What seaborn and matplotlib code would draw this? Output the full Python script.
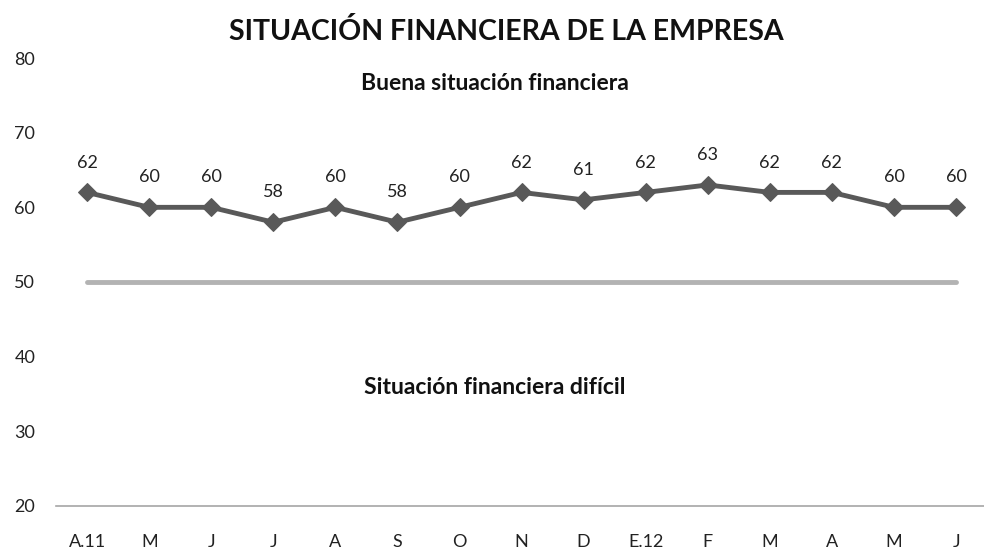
import matplotlib
matplotlib.use("Agg")
import matplotlib.pyplot as plt
import pandas as pd
import seaborn as sns

months = ["A.11", "M", "J", "J", "A", "S", "O", "N", "D", "E.12", "F", "M", "A", "M", "J"]
values = [62, 60, 60, 58, 60, 58, 60, 62, 61, 62, 63, 62, 62, 60, 60]
threshold = [50] * len(months)

sns.set_theme(style="white")
plt.rcParams["font.family"] = ["Lato", "DejaVu Sans"]

df = pd.DataFrame({"pos": range(len(months)), "valor": values, "umbral": threshold})

fig = plt.figure(figsize=(9.84, 5.48), dpi=100)
ax = fig.add_axes([0.057, 0.077, 0.943, 0.817])

sns.lineplot(data=df, x="pos", y="umbral", color="#b3b3b3", linewidth=3.5,
             solid_capstyle="round", ax=ax)
sns.lineplot(data=df, x="pos", y="valor", color="#595959", linewidth=3.5,
             marker="D", markersize=9, markeredgecolor="#595959", ax=ax)

for i, v in enumerate(values):
    ax.text(i, v + 4.0, str(v), ha="center", va="center", fontsize=13, color="#222222")

ax.set_xlim(-0.5, 14.45)
ax.set_ylim(20, 80)
ax.set_yticks(range(20, 81, 10))
ax.set_xticks(range(len(months)))
ax.set_xticklabels(months)
ax.tick_params(axis="both", length=0, labelsize=13, colors="#222222")
ax.tick_params(axis="y", pad=15)
ax.tick_params(axis="x", pad=20)
ax.set_xlabel("")
ax.set_ylabel("")

for side in ["top", "right", "left"]:
    ax.spines[side].set_visible(False)
ax.spines["bottom"].set_color("#a6a6a6")
ax.spines["bottom"].set_linewidth(1.2)

ax.text(6.57, 76.6, "Buena situación financiera", ha="center", va="center",
        fontsize=16.5, fontweight="bold", color="#111111")
ax.text(6.57, 35.8, "Situación financiera difícil", ha="center", va="center",
        fontsize=16.5, fontweight="bold", color="#111111")

fig.text(0.515, 0.942, "SITUACIÓN FINANCIERA DE LA EMPRESA", ha="center", va="center",
         fontsize=20.5, fontweight="bold", color="#111111")

fig.savefig("out.png", dpi=100)
plt.close(fig)
